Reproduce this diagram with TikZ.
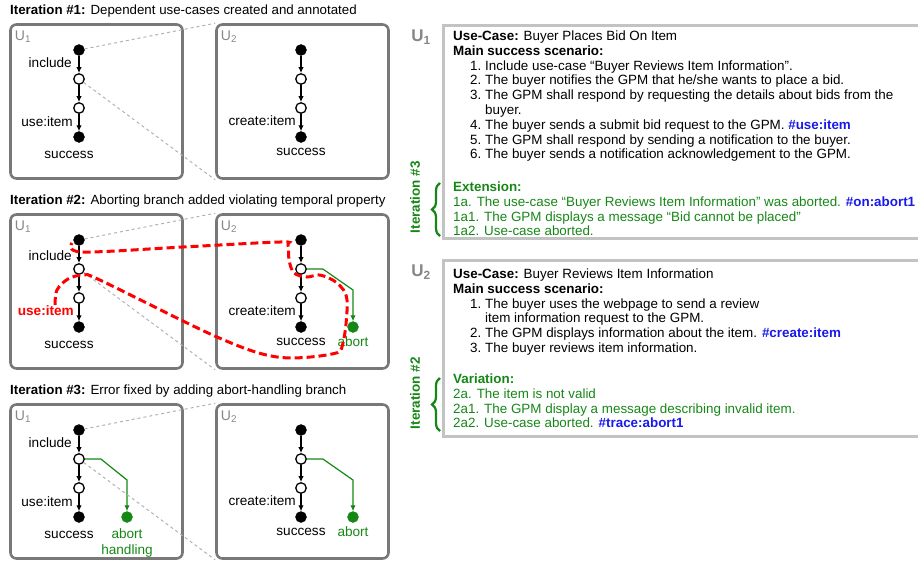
\documentclass[tikz,border=0pt]{standalone}
\usepackage{fontspec}
\setmainfont{Liberation Sans}
\usetikzlibrary{positioning, arrows.meta, calc, decorations.pathreplacing}

\definecolor{ucgreen}{RGB}{22,135,22}
\definecolor{ucblue}{RGB}{25,25,235}
\definecolor{ucgray}{RGB}{135,135,135}
\definecolor{framegray}{RGB}{120,120,120}
\definecolor{boxgray}{RGB}{195,195,195}

\tikzset{
  ucframe/.style={draw=framegray, line width=2.6pt, rounded corners=6pt, minimum width=172pt, minimum height=154pt, inner sep=0pt},
  txtframe/.style={draw=boxgray, line width=2.6pt, minimum width=480pt, inner sep=0pt, anchor=north west},
  dotfill/.style={circle, fill=black, draw=black, minimum size=11pt, inner sep=0pt},
  dotopen/.style={circle, fill=white, draw=black, line width=1.3pt, minimum size=10.5pt, inner sep=0pt},
  dotabort/.style={circle, fill=ucgreen, draw=ucgreen, minimum size=11pt, inner sep=0pt},
  flow/.style={line width=1.5pt, -{Latex[length=6pt,width=5.5pt]}},
  abortflow/.style={ucgreen, line width=1.2pt, -{Latex[length=6pt,width=5.5pt]}},
  link/.style={draw=black!30, line width=1pt, dash pattern=on 3pt off 3pt},
  trace/.style={red, line width=3pt, dash pattern=on 8pt off 4pt},
  lbl/.style={font=\fontsize{13.6}{15.5}\selectfont, inner sep=0pt},
  ulbl/.style={text=ucgray, font=\fontsize{14}{15}\selectfont, inner sep=0pt},
  ttl/.style={font=\fontsize{13.3}{15}\selectfont, inner sep=0pt, anchor=west},
  uctext/.style={font=\fontsize{13.4}{14.8}\selectfont, inner sep=0pt, align=left, anchor=north west},
  ithead/.style={text=ucgreen, font=\fontsize{13.5}{15}\selectfont\bfseries, inner sep=0pt, rotate=90},
  itbrace/.style={ucgreen, line width=2.2pt, decorate, decoration={brace, amplitude=8pt}},
}

\newcommand{\itm}[1]{\hspace*{17pt}\makebox[15pt][l]{#1.}}

\begin{document}
\begin{tikzpicture}[x=1pt, y=-1pt]
        \useasboundingbox (0,0) rectangle (918,566);

        % ==========================================
        % ITERATION #1
        % ==========================================
        \begin{scope}[shift={(0,0)}]
            \node[ttl] (ttl1) at (10,11) {\textbf{Iteration \#1:} Dependent use-cases created and annotated};
            \node[ucframe] (p1u1) at (96.5,101.5) {};
            \node[ucframe] (p1u2) at (302.5,101.5) {};
            \node[ulbl] (p1l1) at (23,37) {U\textsubscript{1}};
            \node[ulbl] (p1l2) at (229,37) {U\textsubscript{2}};

            % U1 chain
            \node[dotfill] (p1a) at (79,50) {};
            \node[dotopen] (p1b) at (79,79) {};
            \node[dotopen] (p1c) at (79,108) {};
            \node[dotfill] (p1d) at (79,137) {};
            \draw[flow] (p1a) -- (p1b);
            \draw[flow] (p1b) -- (p1c);
            \draw[flow] (p1c) -- (p1d);
            \node[lbl, anchor=east] (p1inc) at (72,63) {include};
            \node[lbl, anchor=east] (p1use) at (73,122) {use:item};
            \node[lbl] (p1suc) at (69,155) {success};

            % U2 chain
            \node[dotfill] (p1e) at (301,50) {};
            \node[dotopen] (p1f) at (301,79) {};
            \node[dotopen] (p1g) at (301,108) {};
            \node[dotfill] (p1h) at (301,137) {};
            \draw[flow] (p1e) -- (p1f);
            \draw[flow] (p1f) -- (p1g);
            \draw[flow] (p1g) -- (p1h);
            \node[lbl, anchor=east] (p1cre) at (296,121) {create:item};
            \node[lbl] (p1suc2) at (301,152) {success};

            % Links between use-cases
            \draw[link] (p1a) -- (p1u2.north west);
            \draw[link] (p1b) -- (p1u2.south west);
        \end{scope}

        % ==========================================
        % ITERATION #2
        % ==========================================
        \begin{scope}[shift={(0,190)}]
            \node[ttl] (ttl2) at (10,11) {\textbf{Iteration \#2:} Aborting branch added violating temporal property};
            \node[ucframe] (p2u1) at (96.5,101.5) {};
            \node[ucframe] (p2u2) at (302.5,101.5) {};
            \node[ulbl] (p2l1) at (23,37) {U\textsubscript{1}};
            \node[ulbl] (p2l2) at (229,37) {U\textsubscript{2}};

            % U1 chain
            \node[dotfill] (p2a) at (79,50) {};
            \node[dotopen] (p2b) at (79,79) {};
            \node[dotopen] (p2c) at (79,108) {};
            \node[dotfill] (p2d) at (79,137) {};
            \draw[flow] (p2a) -- (p2b);
            \draw[flow] (p2b) -- (p2c);
            \draw[flow] (p2c) -- (p2d);
            \node[lbl, anchor=east] (p2inc) at (72,66) {include};
            \node[lbl, anchor=east, text=red, font=\fontsize{13.6}{15.5}\selectfont\bfseries] (p2use) at (74,121) {use:item};
            \node[lbl] (p2suc) at (69,155) {success};

            % U2 chain
            \node[dotfill] (p2e) at (301,50) {};
            \node[dotopen] (p2f) at (301,79) {};
            \node[dotopen] (p2g) at (301,108) {};
            \node[dotfill] (p2h) at (301,137) {};
            \draw[flow] (p2e) -- (p2f);
            \draw[flow] (p2f) -- (p2g);
            \draw[flow] (p2g) -- (p2h);
            \node[lbl, anchor=east] (p2cre) at (296,121) {create:item};
            \node[lbl] (p2suc2) at (301,152) {success};

            % Abort branch
            \node[dotabort] (p2k) at (353,137) {};
            \draw[abortflow] (p2f.east) -- ++(16,0) -- ($(p2k)+(0,-37)$) -- (p2k);
            \node[lbl, text=ucgreen] (p2abt) at (353,152) {abort};

            % Links between use-cases
            \draw[link] (p2a) -- (p2u2.north west);
            \draw[link] (p2b) -- (p2u2.south west);

            % Violating trace
            \draw[trace] plot[smooth, tension=0.55] coordinates {
                (55,115) (57,100) (68,89) (84,85) (102,91) (217,147) (277,167)
                (332,164) (343,153) (347,110) (337,93) (320,85) (307,87) (294,83)
                (289,70) (288,55) (280,52) (183,57) (82,62) (72,53)};
        \end{scope}

        % ==========================================
        % ITERATION #3
        % ==========================================
        \begin{scope}[shift={(0,380)}]
            \node[ttl] (ttl3) at (10,11) {\textbf{Iteration \#3:} Error fixed by adding abort-handling branch};
            \node[ucframe] (p3u1) at (96.5,101.5) {};
            \node[ucframe] (p3u2) at (302.5,101.5) {};
            \node[ulbl] (p3l1) at (23,37) {U\textsubscript{1}};
            \node[ulbl] (p3l2) at (229,37) {U\textsubscript{2}};

            % U1 chain
            \node[dotfill] (p3a) at (79,50) {};
            \node[dotopen] (p3b) at (79,79) {};
            \node[dotopen] (p3c) at (79,108) {};
            \node[dotfill] (p3d) at (79,137) {};
            \draw[flow] (p3a) -- (p3b);
            \draw[flow] (p3b) -- (p3c);
            \draw[flow] (p3c) -- (p3d);
            \node[lbl, anchor=east] (p3inc) at (72,63) {include};
            \node[lbl, anchor=east] (p3use) at (73,122) {use:item};
            \node[lbl] (p3suc) at (69,155) {success};

            % Abort handling branch
            \node[dotabort] (p3k) at (127,137) {};
            \draw[abortflow] (p3b.east) -- ++(16,0) -- ($(p3k)+(0,-37)$) -- (p3k);
            \node[lbl, text=ucgreen, align=center] (p3abt) at (127,163) {abort\\handling};

            % U2 chain
            \node[dotfill] (p3e) at (301,50) {};
            \node[dotopen] (p3f) at (301,79) {};
            \node[dotopen] (p3g) at (301,108) {};
            \node[dotfill] (p3h) at (301,137) {};
            \draw[flow] (p3e) -- (p3f);
            \draw[flow] (p3f) -- (p3g);
            \draw[flow] (p3g) -- (p3h);
            \node[lbl, anchor=east] (p3cre) at (296,121) {create:item};
            \node[lbl] (p3suc2) at (301,152) {success};

            \node[dotabort] (p3m) at (353,137) {};
            \draw[abortflow] (p3f.east) -- ++(16,0) -- ($(p3m)+(0,-37)$) -- (p3m);
            \node[lbl, text=ucgreen] (p3abt2) at (353,152) {abort};

            % Links between use-cases
            \draw[link] (p3a) -- (p3u2.north west);
            \draw[link] (p3b) -- (p3u2.south west);
        \end{scope}

        % ==========================================
        % RIGHT SIDE: Use-case texts
        % ==========================================
        \node[txtframe, minimum height=213pt] (box1) at (442,24) {};
        \node[text=ucgray, font=\fontsize{17}{19}\selectfont\bfseries, inner sep=0pt] (lab1) at (421,37) {U\textsubscript{1}};
        \node[uctext] (txt1) at (453,30.5) {%
            \textbf{Use-Case:} Buyer Places Bid On Item\\
            \textbf{Main success scenario:}\\
            \itm{1}Include use-case “Buyer Reviews Item Information”.\\
            \itm{2}The buyer notifies the GPM that he/she wants to place a bid.\\
            \itm{3}The GPM shall respond by requesting the details about bids from the\\
            \hspace*{32pt}buyer.\\
            \itm{4}The buyer sends a submit bid request to the GPM. \textcolor{ucblue}{\textbf{\#use:item}}\\
            \itm{5}The GPM shall respond by sending a notification to the buyer.\\
            \itm{6}The buyer sends a notification acknowledgement to the GPM.};
        \node[uctext, text=ucgreen] (ext1) at (453,181.5) {%
            \textbf{Extension:}\\
            1a. The use-case “Buyer Reviews Item Information” was aborted. \textcolor{ucblue}{\textbf{\#on:abort1}}\\
            1a1. The GPM displays a message “Bid cannot be placed”\\
            1a2. Use-case aborted.};
        \node[ithead] (it3) at (415,197) {Iteration \#3};
        \draw[itbrace] (440,236) -- (440,183);

        \node[txtframe, minimum height=176pt] (box2) at (442,259) {};
        \node[text=ucgray, font=\fontsize{17}{19}\selectfont\bfseries, inner sep=0pt] (lab2) at (421,272) {U\textsubscript{2}};
        \node[uctext] (txt2) at (453,268.5) {%
            \textbf{Use-Case:} Buyer Reviews Item Information\\
            \textbf{Main success scenario:}\\
            \itm{1}The buyer uses the webpage to send a review\\
            \hspace*{32pt}item information request to the GPM.\\
            \itm{2}The GPM displays information about the item. \textcolor{ucblue}{\textbf{\#create:item}}\\
            \itm{3}The buyer reviews item information.};
        \node[uctext, text=ucgreen] (ext2) at (453,373.5) {%
            \textbf{Variation:}\\
            2a. The item is not valid\\
            2a1. The GPM display a message describing invalid item.\\
            2a2. Use-case aborted. \textcolor{ucblue}{\textbf{\#trace:abort1}}};
        \node[ithead] (it2) at (415,393) {Iteration \#2};
        \draw[itbrace] (440,431) -- (440,378);

    \end{tikzpicture}
\end{document}
